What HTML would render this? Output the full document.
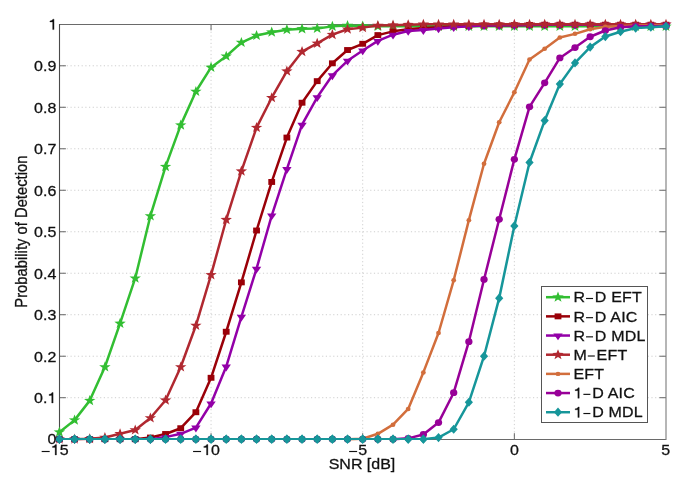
<!DOCTYPE html>
<html><head><meta charset="utf-8"><style>
html,body{margin:0;padding:0;background:#fff;width:685px;height:495px;overflow:hidden}
svg{display:block;will-change:transform}
.h{fill:none;stroke:none}
.t{font-family:"Liberation Sans",sans-serif;font-size:16px;fill:#111;stroke:#111;stroke-width:0.3px}
</style></head><body>
<svg width="685" height="495" viewBox="0 0 685 495">
<rect width="685" height="495" fill="#fff"/>
<path d="M211.05,24.3V439.2M362.70,24.3V439.2M514.35,24.3V439.2M59.4,397.71H666.0M59.4,356.22H666.0M59.4,314.73H666.0M59.4,273.24H666.0M59.4,231.75H666.0M59.4,190.26H666.0M59.4,148.77H666.0M59.4,107.28H666.0M59.4,65.79H666.0" stroke="#cfcfcf" stroke-width="1" stroke-dasharray="1.2,2.5" fill="none"/>
<path d="M59.4,397.71h6.5M666.0,397.71h-6.5M59.4,356.22h6.5M666.0,356.22h-6.5M59.4,314.73h6.5M666.0,314.73h-6.5M59.4,273.24h6.5M666.0,273.24h-6.5M59.4,231.75h6.5M666.0,231.75h-6.5M59.4,190.26h6.5M666.0,190.26h-6.5M59.4,148.77h6.5M666.0,148.77h-6.5M59.4,107.28h6.5M666.0,107.28h-6.5M59.4,65.79h6.5M666.0,65.79h-6.5M211.05,439.2v-6M211.05,24.3v6M362.70,439.2v-6M362.70,24.3v6M514.35,439.2v-6M514.35,24.3v6" stroke="#666" stroke-width="1" fill="none"/>
<path d="M59.5,24.5H666M59.5,439.5H666" stroke="#6a6a6a" stroke-width="1" fill="none"/>
<path d="M59.5,24V440" stroke="#4a4a4a" stroke-width="1.1" fill="none"/>
<path d="M666,24V440" stroke="#7a7a7a" stroke-width="1.1" fill="none"/>
<clipPath id="c"><rect x="51.4" y="16.3" width="622.6" height="430.9"/></clipPath>
<polyline points="59.40,432.15 74.56,420.11 89.73,400.61 104.90,367.01 120.06,323.44 135.22,278.22 150.39,215.98 165.56,166.61 180.72,125.12 195.89,91.51 211.05,67.45 226.22,56.25 241.38,42.56 256.55,35.50 271.71,32.18 286.88,29.69 302.04,28.86 317.20,28.45 332.37,26.37 347.53,25.54 362.70,25.96 377.87,26.37 393.03,26.37 408.19,26.37 423.36,26.37 438.52,26.37 453.69,26.37 468.86,26.37 484.02,26.37 499.19,26.37 514.35,26.37 529.52,26.37 544.68,26.37 559.85,26.37 575.01,26.37 590.17,26.37 605.34,26.37 620.50,26.37 635.67,26.37 650.84,26.37 666.00,26.37" fill="none" stroke="#32be32" stroke-width="2.5" stroke-linejoin="round"/>
<g fill="#32be32"></g>
<g fill="#32be32"><polygon points="59.40,426.57 60.84,430.30 65.11,430.42 61.73,432.85 62.93,436.66 59.40,434.43 55.87,436.66 57.07,432.85 53.69,430.42 57.96,430.30"/><polygon points="74.56,414.53 76.01,418.27 80.27,418.39 76.90,420.82 78.09,424.63 74.56,422.39 71.04,424.63 72.23,420.82 68.86,418.39 73.12,418.27"/><polygon points="89.73,395.03 91.17,398.77 95.44,398.89 92.06,401.32 93.26,405.13 89.73,402.89 86.20,405.13 87.40,401.32 84.02,398.89 88.29,398.77"/><polygon points="104.90,361.43 106.34,365.16 110.60,365.28 107.23,367.71 108.42,371.52 104.90,369.29 101.37,371.52 102.56,367.71 99.19,365.28 103.45,365.16"/><polygon points="120.06,317.86 121.50,321.60 125.77,321.72 122.39,324.15 123.59,327.96 120.06,325.72 116.53,327.96 117.73,324.15 114.35,321.72 118.62,321.60"/><polygon points="135.22,272.64 136.67,276.38 140.93,276.49 137.56,278.92 138.75,282.73 135.22,280.50 131.70,282.73 132.89,278.92 129.52,276.49 133.78,276.38"/><polygon points="150.39,210.40 151.83,214.14 156.10,214.26 152.72,216.69 153.92,220.50 150.39,218.26 146.86,220.50 148.06,216.69 144.68,214.26 148.95,214.14"/><polygon points="165.56,161.03 167.00,164.77 171.26,164.89 167.89,167.31 169.08,171.13 165.56,168.89 162.03,171.13 163.22,167.31 159.85,164.89 164.11,164.77"/><polygon points="180.72,119.54 182.16,123.28 186.43,123.40 183.05,125.82 184.25,129.64 180.72,127.40 177.19,129.64 178.39,125.82 175.01,123.40 179.28,123.28"/><polygon points="195.89,85.93 197.33,89.67 201.59,89.79 198.22,92.22 199.41,96.03 195.89,93.79 192.36,96.03 193.55,92.22 190.18,89.79 194.44,89.67"/><polygon points="211.05,61.87 212.49,65.61 216.76,65.73 213.38,68.15 214.58,71.96 211.05,69.73 207.52,71.96 208.72,68.15 205.34,65.73 209.61,65.61"/><polygon points="226.22,50.67 227.66,54.40 231.92,54.52 228.55,56.95 229.74,60.76 226.22,58.53 222.69,60.76 223.88,56.95 220.51,54.52 224.77,54.40"/><polygon points="241.38,36.98 242.82,40.71 247.09,40.83 243.71,43.26 244.91,47.07 241.38,44.83 237.85,47.07 239.05,43.26 235.67,40.83 239.94,40.71"/><polygon points="256.55,29.92 257.99,33.66 262.25,33.78 258.88,36.21 260.07,40.02 256.55,37.78 253.02,40.02 254.21,36.21 250.84,33.78 255.10,33.66"/><polygon points="271.71,26.60 273.15,30.34 277.42,30.46 274.04,32.89 275.24,36.70 271.71,34.46 268.18,36.70 269.38,32.89 266.00,30.46 270.27,30.34"/><polygon points="286.88,24.11 288.32,27.85 292.58,27.97 289.21,30.40 290.40,34.21 286.88,31.97 283.35,34.21 284.54,30.40 281.17,27.97 285.43,27.85"/><polygon points="302.04,23.28 303.48,27.02 307.75,27.14 304.37,29.57 305.57,33.38 302.04,31.14 298.51,33.38 299.71,29.57 296.33,27.14 300.60,27.02"/><polygon points="317.20,22.87 318.65,26.61 322.91,26.72 319.54,29.15 320.73,32.96 317.20,30.73 313.68,32.96 314.87,29.15 311.50,26.72 315.76,26.61"/><polygon points="332.37,20.79 333.81,24.53 338.08,24.65 334.70,27.08 335.90,30.89 332.37,28.65 328.84,30.89 330.04,27.08 326.66,24.65 330.93,24.53"/><polygon points="347.53,19.96 348.98,23.70 353.24,23.82 349.87,26.25 351.06,30.06 347.53,27.82 344.01,30.06 345.20,26.25 341.83,23.82 346.09,23.70"/><polygon points="362.70,20.38 364.14,24.12 368.41,24.24 365.03,26.66 366.23,30.47 362.70,28.24 359.17,30.47 360.37,26.66 356.99,24.24 361.26,24.12"/><polygon points="377.87,20.79 379.31,24.53 383.57,24.65 380.20,27.08 381.39,30.89 377.87,28.65 374.34,30.89 375.53,27.08 372.16,24.65 376.42,24.53"/><polygon points="393.03,20.79 394.47,24.53 398.74,24.65 395.36,27.08 396.56,30.89 393.03,28.65 389.50,30.89 390.70,27.08 387.32,24.65 391.59,24.53"/><polygon points="408.19,20.79 409.64,24.53 413.90,24.65 410.53,27.08 411.72,30.89 408.19,28.65 404.67,30.89 405.86,27.08 402.49,24.65 406.75,24.53"/><polygon points="423.36,20.79 424.80,24.53 429.07,24.65 425.69,27.08 426.89,30.89 423.36,28.65 419.83,30.89 421.03,27.08 417.65,24.65 421.92,24.53"/><polygon points="438.52,20.79 439.97,24.53 444.23,24.65 440.86,27.08 442.05,30.89 438.52,28.65 435.00,30.89 436.19,27.08 432.82,24.65 437.08,24.53"/><polygon points="453.69,20.79 455.13,24.53 459.40,24.65 456.02,27.08 457.22,30.89 453.69,28.65 450.16,30.89 451.36,27.08 447.98,24.65 452.25,24.53"/><polygon points="468.86,20.79 470.30,24.53 474.56,24.65 471.19,27.08 472.38,30.89 468.86,28.65 465.33,30.89 466.52,27.08 463.15,24.65 467.41,24.53"/><polygon points="484.02,20.79 485.46,24.53 489.73,24.65 486.35,27.08 487.55,30.89 484.02,28.65 480.49,30.89 481.69,27.08 478.31,24.65 482.58,24.53"/><polygon points="499.19,20.79 500.63,24.53 504.89,24.65 501.52,27.08 502.71,30.89 499.19,28.65 495.66,30.89 496.85,27.08 493.48,24.65 497.74,24.53"/><polygon points="514.35,20.79 515.79,24.53 520.06,24.65 516.68,27.08 517.88,30.89 514.35,28.65 510.82,30.89 512.02,27.08 508.64,24.65 512.91,24.53"/><polygon points="529.52,20.79 530.96,24.53 535.22,24.65 531.85,27.08 533.04,30.89 529.52,28.65 525.99,30.89 527.18,27.08 523.81,24.65 528.07,24.53"/><polygon points="544.68,20.79 546.12,24.53 550.39,24.65 547.01,27.08 548.21,30.89 544.68,28.65 541.15,30.89 542.35,27.08 538.97,24.65 543.24,24.53"/><polygon points="559.85,20.79 561.29,24.53 565.55,24.65 562.18,27.08 563.37,30.89 559.85,28.65 556.32,30.89 557.51,27.08 554.14,24.65 558.40,24.53"/><polygon points="575.01,20.79 576.45,24.53 580.72,24.65 577.34,27.08 578.54,30.89 575.01,28.65 571.48,30.89 572.68,27.08 569.30,24.65 573.57,24.53"/><polygon points="590.17,20.79 591.62,24.53 595.88,24.65 592.51,27.08 593.70,30.89 590.17,28.65 586.65,30.89 587.84,27.08 584.47,24.65 588.73,24.53"/><polygon points="605.34,20.79 606.78,24.53 611.05,24.65 607.67,27.08 608.87,30.89 605.34,28.65 601.81,30.89 603.01,27.08 599.63,24.65 603.90,24.53"/><polygon points="620.50,20.79 621.95,24.53 626.21,24.65 622.84,27.08 624.03,30.89 620.50,28.65 616.98,30.89 618.17,27.08 614.80,24.65 619.06,24.53"/><polygon points="635.67,20.79 637.11,24.53 641.38,24.65 638.00,27.08 639.20,30.89 635.67,28.65 632.14,30.89 633.34,27.08 629.96,24.65 634.23,24.53"/><polygon points="650.84,20.79 652.28,24.53 656.54,24.65 653.17,27.08 654.36,30.89 650.84,28.65 647.31,30.89 648.50,27.08 645.13,24.65 649.39,24.53"/><polygon points="666.00,20.79 667.44,24.53 671.71,24.65 668.33,27.08 669.53,30.89 666.00,28.65 662.47,30.89 663.67,27.08 660.29,24.65 664.56,24.53"/></g>
<polyline points="135.22,439.20 150.39,437.54 165.56,434.01 180.72,428.21 195.89,412.23 211.05,377.79 226.22,331.74 241.38,282.37 256.55,230.51 271.71,181.96 286.88,137.57 302.04,102.72 317.20,81.14 332.37,63.30 347.53,50.02 362.70,43.80 377.87,35.09 393.03,31.35 408.19,29.28 423.36,28.03 438.52,27.20 453.69,26.37 468.86,25.96 484.02,25.54 499.19,25.34 514.35,25.13 529.52,24.92 544.68,24.71 559.85,24.71 575.01,24.71 590.17,24.71 605.34,24.71 620.50,24.71 635.67,24.71 650.84,24.71 666.00,24.71" fill="none" stroke="#9a0008" stroke-width="2.5" stroke-linejoin="round"/>
<g fill="#6a1830"><rect x="56.00" y="436.25" width="6.80" height="5.90"/><rect x="71.16" y="436.25" width="6.80" height="5.90"/><rect x="86.33" y="436.25" width="6.80" height="5.90"/><rect x="101.50" y="436.25" width="6.80" height="5.90"/><rect x="116.66" y="436.25" width="6.80" height="5.90"/><rect x="131.82" y="436.25" width="6.80" height="5.90"/></g>
<g fill="#9a0008"><rect x="146.99" y="434.59" width="6.80" height="5.90"/><rect x="162.16" y="431.06" width="6.80" height="5.90"/><rect x="177.32" y="425.26" width="6.80" height="5.90"/><rect x="192.49" y="409.28" width="6.80" height="5.90"/><rect x="207.65" y="374.84" width="6.80" height="5.90"/><rect x="222.81" y="328.79" width="6.80" height="5.90"/><rect x="237.98" y="279.42" width="6.80" height="5.90"/><rect x="253.15" y="227.56" width="6.80" height="5.90"/><rect x="268.31" y="179.01" width="6.80" height="5.90"/><rect x="283.48" y="134.62" width="6.80" height="5.90"/><rect x="298.64" y="99.77" width="6.80" height="5.90"/><rect x="313.81" y="78.19" width="6.80" height="5.90"/><rect x="328.97" y="60.35" width="6.80" height="5.90"/><rect x="344.13" y="47.07" width="6.80" height="5.90"/><rect x="359.30" y="40.85" width="6.80" height="5.90"/><rect x="374.47" y="32.14" width="6.80" height="5.90"/><rect x="389.63" y="28.40" width="6.80" height="5.90"/><rect x="404.80" y="26.33" width="6.80" height="5.90"/><rect x="419.96" y="25.08" width="6.80" height="5.90"/><rect x="435.12" y="24.25" width="6.80" height="5.90"/><rect x="450.29" y="23.42" width="6.80" height="5.90"/><rect x="465.46" y="23.01" width="6.80" height="5.90"/><rect x="480.62" y="22.59" width="6.80" height="5.90"/><rect x="495.79" y="22.39" width="6.80" height="5.90"/><rect x="510.95" y="22.18" width="6.80" height="5.90"/><rect x="526.12" y="21.97" width="6.80" height="5.90"/><rect x="541.28" y="21.76" width="6.80" height="5.90"/><rect x="556.45" y="21.76" width="6.80" height="5.90"/><rect x="571.61" y="21.76" width="6.80" height="5.90"/><rect x="586.77" y="21.76" width="6.80" height="5.90"/><rect x="601.94" y="21.76" width="6.80" height="5.90"/><rect x="617.11" y="21.76" width="6.80" height="5.90"/><rect x="632.27" y="21.76" width="6.80" height="5.90"/><rect x="647.44" y="21.76" width="6.80" height="5.90"/><rect x="662.60" y="21.76" width="6.80" height="5.90"/></g>
<polyline points="150.39,439.20 165.56,437.13 180.72,433.81 195.89,427.58 211.05,403.52 226.22,366.59 241.38,316.80 256.55,268.68 271.71,215.57 286.88,169.10 302.04,124.71 317.20,97.32 332.37,75.33 347.53,60.81 362.70,50.44 377.87,40.90 393.03,34.67 408.19,30.94 423.36,30.11 438.52,28.45 453.69,27.20 468.86,26.37 484.02,25.54 499.19,25.34 514.35,25.13 529.52,24.92 544.68,24.71 559.85,24.71 575.01,24.71 590.17,24.71 605.34,24.71 620.50,24.71 635.67,24.71 650.84,24.71 666.00,24.71" fill="none" stroke="#9300a8" stroke-width="2.5" stroke-linejoin="round"/>
<g fill="#3a2868"><polygon points="54.70,437.20 64.10,437.20 59.40,444.00"/><polygon points="69.86,437.20 79.27,437.20 74.56,444.00"/><polygon points="85.03,437.20 94.43,437.20 89.73,444.00"/><polygon points="100.20,437.20 109.60,437.20 104.90,444.00"/><polygon points="115.36,437.20 124.76,437.20 120.06,444.00"/><polygon points="130.53,437.20 139.92,437.20 135.22,444.00"/><polygon points="145.69,437.20 155.09,437.20 150.39,444.00"/></g>
<g fill="#9300a8"><polygon points="160.86,435.13 170.25,435.13 165.56,441.93"/><polygon points="176.02,431.81 185.42,431.81 180.72,438.61"/><polygon points="191.19,425.58 200.59,425.58 195.89,432.38"/><polygon points="206.35,401.52 215.75,401.52 211.05,408.32"/><polygon points="221.52,364.59 230.91,364.59 226.22,371.39"/><polygon points="236.68,314.80 246.08,314.80 241.38,321.60"/><polygon points="251.85,266.68 261.25,266.68 256.55,273.48"/><polygon points="267.01,213.57 276.41,213.57 271.71,220.37"/><polygon points="282.18,167.10 291.57,167.10 286.88,173.90"/><polygon points="297.34,122.71 306.74,122.71 302.04,129.51"/><polygon points="312.50,95.32 321.90,95.32 317.20,102.12"/><polygon points="327.67,73.33 337.07,73.33 332.37,80.13"/><polygon points="342.83,58.81 352.23,58.81 347.53,65.61"/><polygon points="358.00,48.44 367.40,48.44 362.70,55.24"/><polygon points="373.17,38.90 382.56,38.90 377.87,45.70"/><polygon points="388.33,32.67 397.73,32.67 393.03,39.47"/><polygon points="403.50,28.94 412.89,28.94 408.19,35.74"/><polygon points="418.66,28.11 428.06,28.11 423.36,34.91"/><polygon points="433.82,26.45 443.22,26.45 438.52,33.25"/><polygon points="448.99,25.20 458.39,25.20 453.69,32.00"/><polygon points="464.16,24.37 473.56,24.37 468.86,31.17"/><polygon points="479.32,23.54 488.72,23.54 484.02,30.34"/><polygon points="494.49,23.34 503.88,23.34 499.19,30.14"/><polygon points="509.65,23.13 519.05,23.13 514.35,29.93"/><polygon points="524.82,22.92 534.22,22.92 529.52,29.72"/><polygon points="539.98,22.71 549.38,22.71 544.68,29.51"/><polygon points="555.14,22.71 564.55,22.71 559.85,29.51"/><polygon points="570.31,22.71 579.71,22.71 575.01,29.51"/><polygon points="585.47,22.71 594.88,22.71 590.17,29.51"/><polygon points="600.64,22.71 610.04,22.71 605.34,29.51"/><polygon points="615.80,22.71 625.21,22.71 620.50,29.51"/><polygon points="630.97,22.71 640.37,22.71 635.67,29.51"/><polygon points="646.13,22.71 655.54,22.71 650.84,29.51"/><polygon points="661.30,22.71 670.70,22.71 666.00,29.51"/></g>
<polyline points="74.56,439.20 89.73,438.79 104.90,437.54 120.06,433.81 135.22,430.07 150.39,418.04 165.56,400.20 180.72,367.01 195.89,325.52 211.05,274.90 226.22,219.72 241.38,171.17 256.55,127.61 271.71,97.74 286.88,71.18 302.04,51.68 317.20,43.39 332.37,34.67 347.53,29.28 362.70,27.62 377.87,25.54 393.03,25.13 408.19,24.71 423.36,24.30 438.52,24.30 453.69,24.30 468.86,24.30 484.02,24.30 499.19,24.30 514.35,24.30 529.52,24.30 544.68,24.30 559.85,24.30 575.01,24.30 590.17,24.30 605.34,24.30 620.50,24.30 635.67,24.30 650.84,24.30 666.00,24.30" fill="none" stroke="#b02830" stroke-width="2.5" stroke-linejoin="round"/>
<g fill="#c05068"><polygon points="59.40,433.62 60.84,437.36 65.11,437.48 61.73,439.90 62.93,443.71 59.40,441.48 55.87,443.71 57.07,439.90 53.69,437.48 57.96,437.36"/><polygon points="74.56,433.62 76.01,437.36 80.27,437.48 76.90,439.90 78.09,443.71 74.56,441.48 71.04,443.71 72.23,439.90 68.86,437.48 73.12,437.36"/></g>
<g fill="#b02830"><polygon points="89.73,433.21 91.17,436.94 95.44,437.06 92.06,439.49 93.26,443.30 89.73,441.06 86.20,443.30 87.40,439.49 84.02,437.06 88.29,436.94"/><polygon points="104.90,431.96 106.34,435.70 110.60,435.82 107.23,438.24 108.42,442.05 104.90,439.82 101.37,442.05 102.56,438.24 99.19,435.82 103.45,435.70"/><polygon points="120.06,428.23 121.50,431.96 125.77,432.08 122.39,434.51 123.59,438.32 120.06,436.08 116.53,438.32 117.73,434.51 114.35,432.08 118.62,431.96"/><polygon points="135.22,424.49 136.67,428.23 140.93,428.35 137.56,430.78 138.75,434.59 135.22,432.35 131.70,434.59 132.89,430.78 129.52,428.35 133.78,428.23"/><polygon points="150.39,412.46 151.83,416.20 156.10,416.32 152.72,418.74 153.92,422.55 150.39,420.32 146.86,422.55 148.06,418.74 144.68,416.32 148.95,416.20"/><polygon points="165.56,394.62 167.00,398.36 171.26,398.48 167.89,400.90 169.08,404.71 165.56,402.48 162.03,404.71 163.22,400.90 159.85,398.48 164.11,398.36"/><polygon points="180.72,361.43 182.16,365.16 186.43,365.28 183.05,367.71 184.25,371.52 180.72,369.29 177.19,371.52 178.39,367.71 175.01,365.28 179.28,365.16"/><polygon points="195.89,319.94 197.33,323.67 201.59,323.79 198.22,326.22 199.41,330.03 195.89,327.80 192.36,330.03 193.55,326.22 190.18,323.79 194.44,323.67"/><polygon points="211.05,269.32 212.49,273.06 216.76,273.18 213.38,275.60 214.58,279.41 211.05,277.18 207.52,279.41 208.72,275.60 205.34,273.18 209.61,273.06"/><polygon points="226.22,214.14 227.66,217.87 231.92,217.99 228.55,220.42 229.74,224.23 226.22,222.00 222.69,224.23 223.88,220.42 220.51,217.99 224.77,217.87"/><polygon points="241.38,165.59 242.82,169.33 247.09,169.45 243.71,171.88 244.91,175.69 241.38,173.45 237.85,175.69 239.05,171.88 235.67,169.45 239.94,169.33"/><polygon points="256.55,122.03 257.99,125.77 262.25,125.89 258.88,128.31 260.07,132.12 256.55,129.89 253.02,132.12 254.21,128.31 250.84,125.89 255.10,125.77"/><polygon points="271.71,92.16 273.15,95.89 277.42,96.01 274.04,98.44 275.24,102.25 271.71,100.02 268.18,102.25 269.38,98.44 266.00,96.01 270.27,95.89"/><polygon points="286.88,65.60 288.32,69.34 292.58,69.46 289.21,71.89 290.40,75.70 286.88,73.46 283.35,75.70 284.54,71.89 281.17,69.46 285.43,69.34"/><polygon points="302.04,46.10 303.48,49.84 307.75,49.96 304.37,52.39 305.57,56.20 302.04,53.96 298.51,56.20 299.71,52.39 296.33,49.96 300.60,49.84"/><polygon points="317.20,37.81 318.65,41.54 322.91,41.66 319.54,44.09 320.73,47.90 317.20,45.66 313.68,47.90 314.87,44.09 311.50,41.66 315.76,41.54"/><polygon points="332.37,29.09 333.81,32.83 338.08,32.95 334.70,35.38 335.90,39.19 332.37,36.95 328.84,39.19 330.04,35.38 326.66,32.95 330.93,32.83"/><polygon points="347.53,23.70 348.98,27.44 353.24,27.55 349.87,29.98 351.06,33.79 347.53,31.56 344.01,33.79 345.20,29.98 341.83,27.55 346.09,27.44"/><polygon points="362.70,22.04 364.14,25.78 368.41,25.89 365.03,28.32 366.23,32.13 362.70,29.90 359.17,32.13 360.37,28.32 356.99,25.89 361.26,25.78"/><polygon points="377.87,19.96 379.31,23.70 383.57,23.82 380.20,26.25 381.39,30.06 377.87,27.82 374.34,30.06 375.53,26.25 372.16,23.82 376.42,23.70"/><polygon points="393.03,19.55 394.47,23.29 398.74,23.41 395.36,25.83 396.56,29.64 393.03,27.41 389.50,29.64 390.70,25.83 387.32,23.41 391.59,23.29"/><polygon points="408.19,19.13 409.64,22.87 413.90,22.99 410.53,25.42 411.72,29.23 408.19,26.99 404.67,29.23 405.86,25.42 402.49,22.99 406.75,22.87"/><polygon points="423.36,18.72 424.80,22.46 429.07,22.58 425.69,25.00 426.89,28.81 423.36,26.58 419.83,28.81 421.03,25.00 417.65,22.58 421.92,22.46"/><polygon points="438.52,18.72 439.97,22.46 444.23,22.58 440.86,25.00 442.05,28.81 438.52,26.58 435.00,28.81 436.19,25.00 432.82,22.58 437.08,22.46"/><polygon points="453.69,18.72 455.13,22.46 459.40,22.58 456.02,25.00 457.22,28.81 453.69,26.58 450.16,28.81 451.36,25.00 447.98,22.58 452.25,22.46"/><polygon points="468.86,18.72 470.30,22.46 474.56,22.58 471.19,25.00 472.38,28.81 468.86,26.58 465.33,28.81 466.52,25.00 463.15,22.58 467.41,22.46"/><polygon points="484.02,18.72 485.46,22.46 489.73,22.58 486.35,25.00 487.55,28.81 484.02,26.58 480.49,28.81 481.69,25.00 478.31,22.58 482.58,22.46"/><polygon points="499.19,18.72 500.63,22.46 504.89,22.58 501.52,25.00 502.71,28.81 499.19,26.58 495.66,28.81 496.85,25.00 493.48,22.58 497.74,22.46"/><polygon points="514.35,18.72 515.79,22.46 520.06,22.58 516.68,25.00 517.88,28.81 514.35,26.58 510.82,28.81 512.02,25.00 508.64,22.58 512.91,22.46"/><polygon points="529.52,18.72 530.96,22.46 535.22,22.58 531.85,25.00 533.04,28.81 529.52,26.58 525.99,28.81 527.18,25.00 523.81,22.58 528.07,22.46"/><polygon points="544.68,18.72 546.12,22.46 550.39,22.58 547.01,25.00 548.21,28.81 544.68,26.58 541.15,28.81 542.35,25.00 538.97,22.58 543.24,22.46"/><polygon points="559.85,18.72 561.29,22.46 565.55,22.58 562.18,25.00 563.37,28.81 559.85,26.58 556.32,28.81 557.51,25.00 554.14,22.58 558.40,22.46"/><polygon points="575.01,18.72 576.45,22.46 580.72,22.58 577.34,25.00 578.54,28.81 575.01,26.58 571.48,28.81 572.68,25.00 569.30,22.58 573.57,22.46"/><polygon points="590.17,18.72 591.62,22.46 595.88,22.58 592.51,25.00 593.70,28.81 590.17,26.58 586.65,28.81 587.84,25.00 584.47,22.58 588.73,22.46"/><polygon points="605.34,18.72 606.78,22.46 611.05,22.58 607.67,25.00 608.87,28.81 605.34,26.58 601.81,28.81 603.01,25.00 599.63,22.58 603.90,22.46"/><polygon points="620.50,18.72 621.95,22.46 626.21,22.58 622.84,25.00 624.03,28.81 620.50,26.58 616.98,28.81 618.17,25.00 614.80,22.58 619.06,22.46"/><polygon points="635.67,18.72 637.11,22.46 641.38,22.58 638.00,25.00 639.20,28.81 635.67,26.58 632.14,28.81 633.34,25.00 629.96,22.58 634.23,22.46"/><polygon points="650.84,18.72 652.28,22.46 656.54,22.58 653.17,25.00 654.36,28.81 650.84,26.58 647.31,28.81 648.50,25.00 645.13,22.58 649.39,22.46"/><polygon points="666.00,18.72 667.44,22.46 671.71,22.58 668.33,25.00 669.53,28.81 666.00,26.58 662.47,28.81 663.67,25.00 660.29,22.58 664.56,22.46"/></g>
<polyline points="347.53,439.20 362.70,438.79 377.87,433.81 393.03,424.68 408.19,408.91 423.36,372.40 438.52,332.99 453.69,280.29 468.86,220.13 484.02,163.71 499.19,122.22 514.35,92.34 529.52,59.57 544.68,48.78 559.85,37.58 575.01,33.84 590.17,29.28 605.34,26.79 620.50,25.96 635.67,25.54 650.84,25.34 666.00,25.13" fill="none" stroke="#d26e3c" stroke-width="2.5" stroke-linejoin="round"/>
<g fill="#2a5a70"><ellipse cx="59.40" cy="439.20" rx="2.4" ry="2.23"/><ellipse cx="74.56" cy="439.20" rx="2.4" ry="2.23"/><ellipse cx="89.73" cy="439.20" rx="2.4" ry="2.23"/><ellipse cx="104.90" cy="439.20" rx="2.4" ry="2.23"/><ellipse cx="120.06" cy="439.20" rx="2.4" ry="2.23"/><ellipse cx="135.22" cy="439.20" rx="2.4" ry="2.23"/><ellipse cx="150.39" cy="439.20" rx="2.4" ry="2.23"/><ellipse cx="165.56" cy="439.20" rx="2.4" ry="2.23"/><ellipse cx="180.72" cy="439.20" rx="2.4" ry="2.23"/><ellipse cx="195.89" cy="439.20" rx="2.4" ry="2.23"/><ellipse cx="211.05" cy="439.20" rx="2.4" ry="2.23"/><ellipse cx="226.22" cy="439.20" rx="2.4" ry="2.23"/><ellipse cx="241.38" cy="439.20" rx="2.4" ry="2.23"/><ellipse cx="256.55" cy="439.20" rx="2.4" ry="2.23"/><ellipse cx="271.71" cy="439.20" rx="2.4" ry="2.23"/><ellipse cx="286.88" cy="439.20" rx="2.4" ry="2.23"/><ellipse cx="302.04" cy="439.20" rx="2.4" ry="2.23"/><ellipse cx="317.20" cy="439.20" rx="2.4" ry="2.23"/><ellipse cx="332.37" cy="439.20" rx="2.4" ry="2.23"/><ellipse cx="347.53" cy="439.20" rx="2.4" ry="2.23"/></g>
<g fill="#d26e3c"><ellipse cx="362.70" cy="438.79" rx="2.4" ry="2.23"/><ellipse cx="377.87" cy="433.81" rx="2.4" ry="2.23"/><ellipse cx="393.03" cy="424.68" rx="2.4" ry="2.23"/><ellipse cx="408.19" cy="408.91" rx="2.4" ry="2.23"/><ellipse cx="423.36" cy="372.40" rx="2.4" ry="2.23"/><ellipse cx="438.52" cy="332.99" rx="2.4" ry="2.23"/><ellipse cx="453.69" cy="280.29" rx="2.4" ry="2.23"/><ellipse cx="468.86" cy="220.13" rx="2.4" ry="2.23"/><ellipse cx="484.02" cy="163.71" rx="2.4" ry="2.23"/><ellipse cx="499.19" cy="122.22" rx="2.4" ry="2.23"/><ellipse cx="514.35" cy="92.34" rx="2.4" ry="2.23"/><ellipse cx="529.52" cy="59.57" rx="2.4" ry="2.23"/><ellipse cx="544.68" cy="48.78" rx="2.4" ry="2.23"/><ellipse cx="559.85" cy="37.58" rx="2.4" ry="2.23"/><ellipse cx="575.01" cy="33.84" rx="2.4" ry="2.23"/><ellipse cx="590.17" cy="29.28" rx="2.4" ry="2.23"/><ellipse cx="605.34" cy="26.79" rx="2.4" ry="2.23"/><ellipse cx="620.50" cy="25.96" rx="2.4" ry="2.23"/><ellipse cx="635.67" cy="25.54" rx="2.4" ry="2.23"/><ellipse cx="650.84" cy="25.34" rx="2.4" ry="2.23"/><ellipse cx="666.00" cy="25.13" rx="2.4" ry="2.23"/></g>
<polyline points="393.03,439.20 408.19,438.37 423.36,434.51 438.52,422.60 453.69,392.73 468.86,341.70 484.02,279.46 499.19,219.30 514.35,159.35 529.52,106.87 544.68,82.80 559.85,57.91 575.01,47.53 590.17,36.75 605.34,30.52 620.50,27.20 635.67,26.37 650.84,26.17 666.00,25.96" fill="none" stroke="#980098" stroke-width="2.5" stroke-linejoin="round"/>
<g fill="#3a2868"><ellipse cx="59.40" cy="439.20" rx="3.65" ry="3.39"/><ellipse cx="74.56" cy="439.20" rx="3.65" ry="3.39"/><ellipse cx="89.73" cy="439.20" rx="3.65" ry="3.39"/><ellipse cx="104.90" cy="439.20" rx="3.65" ry="3.39"/><ellipse cx="120.06" cy="439.20" rx="3.65" ry="3.39"/><ellipse cx="135.22" cy="439.20" rx="3.65" ry="3.39"/><ellipse cx="150.39" cy="439.20" rx="3.65" ry="3.39"/><ellipse cx="165.56" cy="439.20" rx="3.65" ry="3.39"/><ellipse cx="180.72" cy="439.20" rx="3.65" ry="3.39"/><ellipse cx="195.89" cy="439.20" rx="3.65" ry="3.39"/><ellipse cx="211.05" cy="439.20" rx="3.65" ry="3.39"/><ellipse cx="226.22" cy="439.20" rx="3.65" ry="3.39"/><ellipse cx="241.38" cy="439.20" rx="3.65" ry="3.39"/><ellipse cx="256.55" cy="439.20" rx="3.65" ry="3.39"/><ellipse cx="271.71" cy="439.20" rx="3.65" ry="3.39"/><ellipse cx="286.88" cy="439.20" rx="3.65" ry="3.39"/><ellipse cx="302.04" cy="439.20" rx="3.65" ry="3.39"/><ellipse cx="317.20" cy="439.20" rx="3.65" ry="3.39"/><ellipse cx="332.37" cy="439.20" rx="3.65" ry="3.39"/><ellipse cx="347.53" cy="439.20" rx="3.65" ry="3.39"/><ellipse cx="362.70" cy="439.20" rx="3.65" ry="3.39"/><ellipse cx="377.87" cy="439.20" rx="3.65" ry="3.39"/><ellipse cx="393.03" cy="439.20" rx="3.65" ry="3.39"/></g>
<g fill="#980098"><ellipse cx="408.19" cy="438.37" rx="3.65" ry="3.39"/><ellipse cx="423.36" cy="434.51" rx="3.65" ry="3.39"/><ellipse cx="438.52" cy="422.60" rx="3.65" ry="3.39"/><ellipse cx="453.69" cy="392.73" rx="3.65" ry="3.39"/><ellipse cx="468.86" cy="341.70" rx="3.65" ry="3.39"/><ellipse cx="484.02" cy="279.46" rx="3.65" ry="3.39"/><ellipse cx="499.19" cy="219.30" rx="3.65" ry="3.39"/><ellipse cx="514.35" cy="159.35" rx="3.65" ry="3.39"/><ellipse cx="529.52" cy="106.87" rx="3.65" ry="3.39"/><ellipse cx="544.68" cy="82.80" rx="3.65" ry="3.39"/><ellipse cx="559.85" cy="57.91" rx="3.65" ry="3.39"/><ellipse cx="575.01" cy="47.53" rx="3.65" ry="3.39"/><ellipse cx="590.17" cy="36.75" rx="3.65" ry="3.39"/><ellipse cx="605.34" cy="30.52" rx="3.65" ry="3.39"/><ellipse cx="620.50" cy="27.20" rx="3.65" ry="3.39"/><ellipse cx="635.67" cy="26.37" rx="3.65" ry="3.39"/><ellipse cx="650.84" cy="26.17" rx="3.65" ry="3.39"/><ellipse cx="666.00" cy="25.96" rx="3.65" ry="3.39"/></g>
<path d="M59.40,439.00H423.36" stroke="#16969a" stroke-width="1.9" fill="none"/>
<polyline points="423.36,439.20 438.52,437.54 453.69,429.24 468.86,402.27 484.02,356.22 499.19,298.13 514.35,225.94 529.52,162.46 544.68,120.56 559.85,84.05 575.01,62.89 590.17,47.12 605.34,36.54 620.50,31.77 635.67,28.03 650.84,27.20 666.00,26.37" fill="none" stroke="#16969a" stroke-width="2.5" stroke-linejoin="round"/>
<g fill="#16969a"><polygon points="59.40,434.60 63.50,439.20 59.40,443.80 55.30,439.20"/><polygon points="74.56,434.60 78.66,439.20 74.56,443.80 70.47,439.20"/><polygon points="89.73,434.60 93.83,439.20 89.73,443.80 85.63,439.20"/><polygon points="104.90,434.60 109.00,439.20 104.90,443.80 100.80,439.20"/><polygon points="120.06,434.60 124.16,439.20 120.06,443.80 115.96,439.20"/><polygon points="135.22,434.60 139.32,439.20 135.22,443.80 131.12,439.20"/><polygon points="150.39,434.60 154.49,439.20 150.39,443.80 146.29,439.20"/><polygon points="165.56,434.60 169.66,439.20 165.56,443.80 161.46,439.20"/><polygon points="180.72,434.60 184.82,439.20 180.72,443.80 176.62,439.20"/><polygon points="195.89,434.60 199.99,439.20 195.89,443.80 191.79,439.20"/><polygon points="211.05,434.60 215.15,439.20 211.05,443.80 206.95,439.20"/><polygon points="226.22,434.60 230.31,439.20 226.22,443.80 222.12,439.20"/><polygon points="241.38,434.60 245.48,439.20 241.38,443.80 237.28,439.20"/><polygon points="256.55,434.60 260.65,439.20 256.55,443.80 252.45,439.20"/><polygon points="271.71,434.60 275.81,439.20 271.71,443.80 267.61,439.20"/><polygon points="286.88,434.60 290.98,439.20 286.88,443.80 282.77,439.20"/><polygon points="302.04,434.60 306.14,439.20 302.04,443.80 297.94,439.20"/><polygon points="317.20,434.60 321.31,439.20 317.20,443.80 313.10,439.20"/><polygon points="332.37,434.60 336.47,439.20 332.37,443.80 328.27,439.20"/><polygon points="347.53,434.60 351.63,439.20 347.53,443.80 343.43,439.20"/><polygon points="362.70,434.60 366.80,439.20 362.70,443.80 358.60,439.20"/><polygon points="377.87,434.60 381.97,439.20 377.87,443.80 373.76,439.20"/><polygon points="393.03,434.60 397.13,439.20 393.03,443.80 388.93,439.20"/><polygon points="408.19,434.60 412.30,439.20 408.19,443.80 404.09,439.20"/><polygon points="423.36,434.60 427.46,439.20 423.36,443.80 419.26,439.20"/></g>
<g fill="#16969a"><polygon points="59.40,434.60 63.50,439.20 59.40,443.80 55.30,439.20"/><polygon points="74.56,434.60 78.66,439.20 74.56,443.80 70.47,439.20"/><polygon points="89.73,434.60 93.83,439.20 89.73,443.80 85.63,439.20"/><polygon points="104.90,434.60 109.00,439.20 104.90,443.80 100.80,439.20"/><polygon points="120.06,434.60 124.16,439.20 120.06,443.80 115.96,439.20"/><polygon points="135.22,434.60 139.32,439.20 135.22,443.80 131.12,439.20"/><polygon points="150.39,434.60 154.49,439.20 150.39,443.80 146.29,439.20"/><polygon points="165.56,434.60 169.66,439.20 165.56,443.80 161.46,439.20"/><polygon points="180.72,434.60 184.82,439.20 180.72,443.80 176.62,439.20"/><polygon points="195.89,434.60 199.99,439.20 195.89,443.80 191.79,439.20"/><polygon points="211.05,434.60 215.15,439.20 211.05,443.80 206.95,439.20"/><polygon points="226.22,434.60 230.31,439.20 226.22,443.80 222.12,439.20"/><polygon points="241.38,434.60 245.48,439.20 241.38,443.80 237.28,439.20"/><polygon points="256.55,434.60 260.65,439.20 256.55,443.80 252.45,439.20"/><polygon points="271.71,434.60 275.81,439.20 271.71,443.80 267.61,439.20"/><polygon points="286.88,434.60 290.98,439.20 286.88,443.80 282.77,439.20"/><polygon points="302.04,434.60 306.14,439.20 302.04,443.80 297.94,439.20"/><polygon points="317.20,434.60 321.31,439.20 317.20,443.80 313.10,439.20"/><polygon points="332.37,434.60 336.47,439.20 332.37,443.80 328.27,439.20"/><polygon points="347.53,434.60 351.63,439.20 347.53,443.80 343.43,439.20"/><polygon points="362.70,434.60 366.80,439.20 362.70,443.80 358.60,439.20"/><polygon points="377.87,434.60 381.97,439.20 377.87,443.80 373.76,439.20"/><polygon points="393.03,434.60 397.13,439.20 393.03,443.80 388.93,439.20"/><polygon points="408.19,434.60 412.30,439.20 408.19,443.80 404.09,439.20"/><polygon points="423.36,434.60 427.46,439.20 423.36,443.80 419.26,439.20"/><polygon points="438.52,432.94 442.62,437.54 438.52,442.14 434.42,437.54"/><polygon points="453.69,424.64 457.79,429.24 453.69,433.84 449.59,429.24"/><polygon points="468.86,397.67 472.96,402.27 468.86,406.87 464.75,402.27"/><polygon points="484.02,351.62 488.12,356.22 484.02,360.82 479.92,356.22"/><polygon points="499.19,293.53 503.29,298.13 499.19,302.73 495.08,298.13"/><polygon points="514.35,221.34 518.45,225.94 514.35,230.54 510.25,225.94"/><polygon points="529.52,157.86 533.62,162.46 529.52,167.06 525.42,162.46"/><polygon points="544.68,115.96 548.78,120.56 544.68,125.16 540.58,120.56"/><polygon points="559.85,79.45 563.95,84.05 559.85,88.65 555.75,84.05"/><polygon points="575.01,58.29 579.11,62.89 575.01,67.49 570.91,62.89"/><polygon points="590.17,42.52 594.27,47.12 590.17,51.72 586.07,47.12"/><polygon points="605.34,31.94 609.44,36.54 605.34,41.14 601.24,36.54"/><polygon points="620.50,27.17 624.61,31.77 620.50,36.37 616.40,31.77"/><polygon points="635.67,23.43 639.77,28.03 635.67,32.63 631.57,28.03"/><polygon points="650.84,22.60 654.94,27.20 650.84,31.80 646.74,27.20"/><polygon points="666.00,21.77 670.10,26.37 666.00,30.97 661.90,26.37"/></g>
<rect x="541.5" y="286.5" width="106" height="136" fill="#fff" stroke="#555" stroke-width="1"/>
<line x1="546" y1="297.20" x2="570" y2="297.20" stroke="#32be32" stroke-width="2.5"/>
<g fill="#32be32"><polygon points="558.00,291.62 559.44,295.36 563.71,295.48 560.33,297.90 561.53,301.71 558.00,299.48 554.47,301.71 555.67,297.90 552.29,295.48 556.56,295.36"/></g>
<text id="t1" x="573.5" y="302.40" text-anchor="start" class="t" transform="translate(0,21.168) scale(1,0.93)" letter-spacing="0.2">R<tspan class="h">−</tspan>D EFT</text><rect transform="translate(0,21.168) scale(1,0.93)" x="586.03" y="297.59" width="7.00" height="1.24" fill="#111"/>
<line x1="546" y1="316.37" x2="570" y2="316.37" stroke="#9a0008" stroke-width="2.5"/>
<g fill="#9a0008"><rect x="554.60" y="313.42" width="6.80" height="5.90"/></g>
<text id="t2" x="573.5" y="321.57" text-anchor="start" class="t" transform="translate(0,22.510) scale(1,0.93)" letter-spacing="0.2">R<tspan class="h">−</tspan>D AIC</text><rect transform="translate(0,22.510) scale(1,0.93)" x="586.03" y="316.76" width="7.00" height="1.24" fill="#111"/>
<line x1="546" y1="335.54" x2="570" y2="335.54" stroke="#9300a8" stroke-width="2.5"/>
<g fill="#9300a8"><polygon points="553.30,333.54 562.70,333.54 558.00,340.34"/></g>
<text id="t3" x="573.5" y="340.74" text-anchor="start" class="t" transform="translate(0,23.852) scale(1,0.93)" letter-spacing="0.2">R<tspan class="h">−</tspan>D MDL</text><rect transform="translate(0,23.852) scale(1,0.93)" x="586.03" y="335.93" width="7.00" height="1.24" fill="#111"/>
<line x1="546" y1="354.71" x2="570" y2="354.71" stroke="#b02830" stroke-width="2.5"/>
<g fill="#b02830"><polygon points="558.00,349.13 559.44,352.87 563.71,352.99 560.33,355.41 561.53,359.22 558.00,356.99 554.47,359.22 555.67,355.41 552.29,352.99 556.56,352.87"/></g>
<text id="t4" x="573.5" y="359.91" text-anchor="start" class="t" transform="translate(0,25.194) scale(1,0.93)" letter-spacing="0.2">M<tspan class="h">−</tspan>EFT</text><rect transform="translate(0,25.194) scale(1,0.93)" x="587.81" y="355.10" width="7.00" height="1.24" fill="#111"/>
<line x1="546" y1="373.88" x2="570" y2="373.88" stroke="#d26e3c" stroke-width="2.5"/>
<g fill="#d26e3c"><ellipse cx="558.00" cy="373.88" rx="2.4" ry="2.23"/></g>
<text id="t5" x="573.5" y="379.08" text-anchor="start" class="t" transform="translate(0,26.536) scale(1,0.93)" letter-spacing="0.2">EFT</text>
<line x1="546" y1="393.05" x2="570" y2="393.05" stroke="#980098" stroke-width="2.5"/>
<g fill="#980098"><ellipse cx="558.00" cy="393.05" rx="3.65" ry="3.39"/></g>
<text id="t6" x="573.5" y="398.25" text-anchor="start" class="t" transform="translate(0,27.877) scale(1,0.93)" letter-spacing="0.2"><tspan class="h">1</tspan><tspan class="h">−</tspan>D AIC</text><polygon transform="translate(0,27.877) scale(1,0.93)" points="577.84,398.25 579.24,398.25 579.24,387.00 578.14,387.00 577.69,387.77 576.70,388.54 575.12,389.00 575.12,390.06 577.84,390.06" fill="#111" stroke="#111" stroke-width="0.3" stroke-linejoin="round"/><rect transform="translate(0,27.877) scale(1,0.93)" x="583.38" y="393.44" width="7.00" height="1.24" fill="#111"/>
<line x1="546" y1="412.22" x2="570" y2="412.22" stroke="#16969a" stroke-width="2.5"/>
<g fill="#16969a"><polygon points="558.00,407.62 562.10,412.22 558.00,416.82 553.90,412.22"/></g>
<text id="t7" x="573.5" y="417.42" text-anchor="start" class="t" transform="translate(0,29.219) scale(1,0.93)" letter-spacing="0.2"><tspan class="h">1</tspan><tspan class="h">−</tspan>D MDL</text><polygon transform="translate(0,29.219) scale(1,0.93)" points="577.84,417.42 579.24,417.42 579.24,406.17 578.14,406.17 577.69,406.94 576.70,407.71 575.12,408.17 575.12,409.23 577.84,409.23" fill="#111" stroke="#111" stroke-width="0.3" stroke-linejoin="round"/><rect transform="translate(0,29.219) scale(1,0.93)" x="583.38" y="412.61" width="7.00" height="1.24" fill="#111"/>
<text id="t8" x="56.3" y="444.50" text-anchor="end" class="t" transform="translate(0,31.115) scale(1,0.93)">0</text>
<text id="t9" x="56.3" y="403.01" text-anchor="end" class="t" transform="translate(0,28.211) scale(1,0.93)">0.<tspan class="h">1</tspan></text><polygon transform="translate(0,28.211) scale(1,0.93)" points="51.72,403.01 53.13,403.01 53.13,391.76 52.02,391.76 51.58,392.53 50.58,393.30 49.00,393.76 49.00,394.82 51.72,394.82" fill="#111" stroke="#111" stroke-width="0.3" stroke-linejoin="round"/>
<text id="t10" x="56.3" y="361.52" text-anchor="end" class="t" transform="translate(0,25.306) scale(1,0.93)">0.2</text>
<text id="t11" x="56.3" y="320.03" text-anchor="end" class="t" transform="translate(0,22.402) scale(1,0.93)">0.3</text>
<text id="t12" x="56.3" y="278.54" text-anchor="end" class="t" transform="translate(0,19.498) scale(1,0.93)">0.4</text>
<text id="t13" x="56.3" y="237.05" text-anchor="end" class="t" transform="translate(0,16.593) scale(1,0.93)">0.5</text>
<text id="t14" x="56.3" y="195.56" text-anchor="end" class="t" transform="translate(0,13.689) scale(1,0.93)">0.6</text>
<text id="t15" x="56.3" y="154.07" text-anchor="end" class="t" transform="translate(0,10.785) scale(1,0.93)">0.7</text>
<text id="t16" x="56.3" y="112.58" text-anchor="end" class="t" transform="translate(0,7.881) scale(1,0.93)">0.8</text>
<text id="t17" x="56.3" y="71.09" text-anchor="end" class="t" transform="translate(0,4.976) scale(1,0.93)">0.9</text>
<text id="t18" x="57.199999999999996" y="29.60" text-anchor="end" class="t" transform="translate(0,2.072) scale(1,0.93)"><tspan class="h">1</tspan></text><polygon transform="translate(0,2.072) scale(1,0.93)" points="52.64,29.60 54.04,29.60 54.04,18.35 52.94,18.35 52.49,19.12 51.50,19.89 49.92,20.35 49.92,21.41 52.64,21.41" fill="#111" stroke="#111" stroke-width="0.3" stroke-linejoin="round"/>
<text id="t19" x="55.0" y="455.00" text-anchor="middle" class="t" transform="translate(0,31.850) scale(1,0.93)"><tspan class="h">−</tspan><tspan class="h">1</tspan>5</text><rect transform="translate(0,31.850) scale(1,0.93)" x="41.68" y="450.62" width="8.00" height="1.24" fill="#111"/><polygon transform="translate(0,31.850) scale(1,0.93)" points="55.10,455.00 56.50,455.00 56.50,443.75 55.40,443.75 54.95,444.52 53.96,445.29 52.38,445.75 52.38,446.81 55.10,446.81" fill="#111" stroke="#111" stroke-width="0.3" stroke-linejoin="round"/>
<text id="t20" x="206.4" y="455.00" text-anchor="middle" class="t" transform="translate(0,31.850) scale(1,0.93)"><tspan class="h">−</tspan><tspan class="h">1</tspan>0</text><rect transform="translate(0,31.850) scale(1,0.93)" x="193.08" y="450.62" width="8.00" height="1.24" fill="#111"/><polygon transform="translate(0,31.850) scale(1,0.93)" points="206.50,455.00 207.90,455.00 207.90,443.75 206.80,443.75 206.35,444.52 205.36,445.29 203.78,445.75 203.78,446.81 206.50,446.81" fill="#111" stroke="#111" stroke-width="0.3" stroke-linejoin="round"/>
<text id="t21" x="358.0" y="455.00" text-anchor="middle" class="t" transform="translate(0,31.850) scale(1,0.93)"><tspan class="h">−</tspan>5</text><rect transform="translate(0,31.850) scale(1,0.93)" x="349.12" y="450.62" width="8.00" height="1.24" fill="#111"/>
<text id="t22" x="514.4" y="455.00" text-anchor="middle" class="t" transform="translate(0,31.850) scale(1,0.93)">0</text>
<text id="t23" x="665.8" y="455.00" text-anchor="middle" class="t" transform="translate(0,31.850) scale(1,0.93)">5</text>
<text id="t24" x="362" y="469.00" text-anchor="middle" class="t" transform="translate(0,32.830) scale(1,0.93)">SNR [dB]</text>
<text transform="translate(26.7,231.6) rotate(-90) scale(0.925,1)" text-anchor="middle" class="t">Probability of Detection</text>
</svg>
</body></html>
